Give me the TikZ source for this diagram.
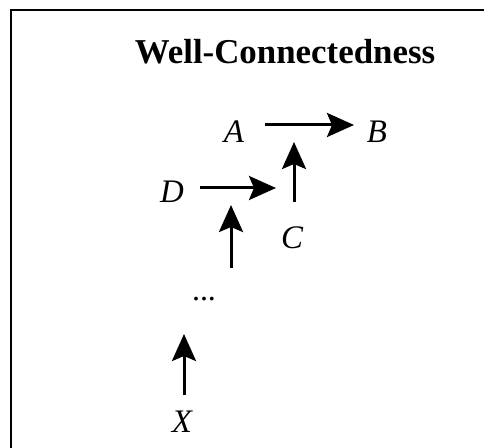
\documentclass[tikz,border=0pt]{standalone}
\usepackage{fontspec}
\setmainfont{Liberation Serif}
\usetikzlibrary{arrows.meta}
\begin{document}
\begin{tikzpicture}[x=1bp,y=-1bp,
  lbl/.style={font=\fontsize{33}{33}\selectfont\itshape, inner sep=0pt},
  arr/.style={line width=3bp, -{Stealth[length=27bp,width=24bp,inset=5bp]}}]
\useasboundingbox (0,0) rectangle (484,448);
\draw[line width=2.5bp] (484,10) -- (11,10) -- (11,448);
\node[font=\fontsize{35}{35}\selectfont\bfseries, anchor=base] (title) at (285,64) {Well-Connectedness};
\node[lbl] (A) at (234,132) {A};
\node[lbl] (B) at (377,132) {B};
\node[lbl] (D) at (172,192) {D};
\node[lbl] (C) at (292,238) {C};
\node[font=\fontsize{32}{32}\selectfont, inner sep=0pt, anchor=base] (dots) at (204,300) {...};
\node[lbl] (X) at (182,422) {X};
\coordinate (ab1) at (265,125);
\coordinate (ab2) at (354,125);
\coordinate (dc1) at (200,188);
\coordinate (dc2) at (276,188);
\coordinate (cu1) at (294,202);
\coordinate (cu2) at (294,142);
\coordinate (mu1) at (231,268);
\coordinate (mu2) at (231,205);
\coordinate (xu1) at (184,395);
\coordinate (xu2) at (184,334);
\draw[arr] (ab1) -- (ab2);
\draw[arr] (dc1) -- (dc2);
\draw[arr] (cu1) -- (cu2);
\draw[arr] (mu1) -- (mu2);
\draw[arr] (xu1) -- (xu2);
\end{tikzpicture}
\end{document}
